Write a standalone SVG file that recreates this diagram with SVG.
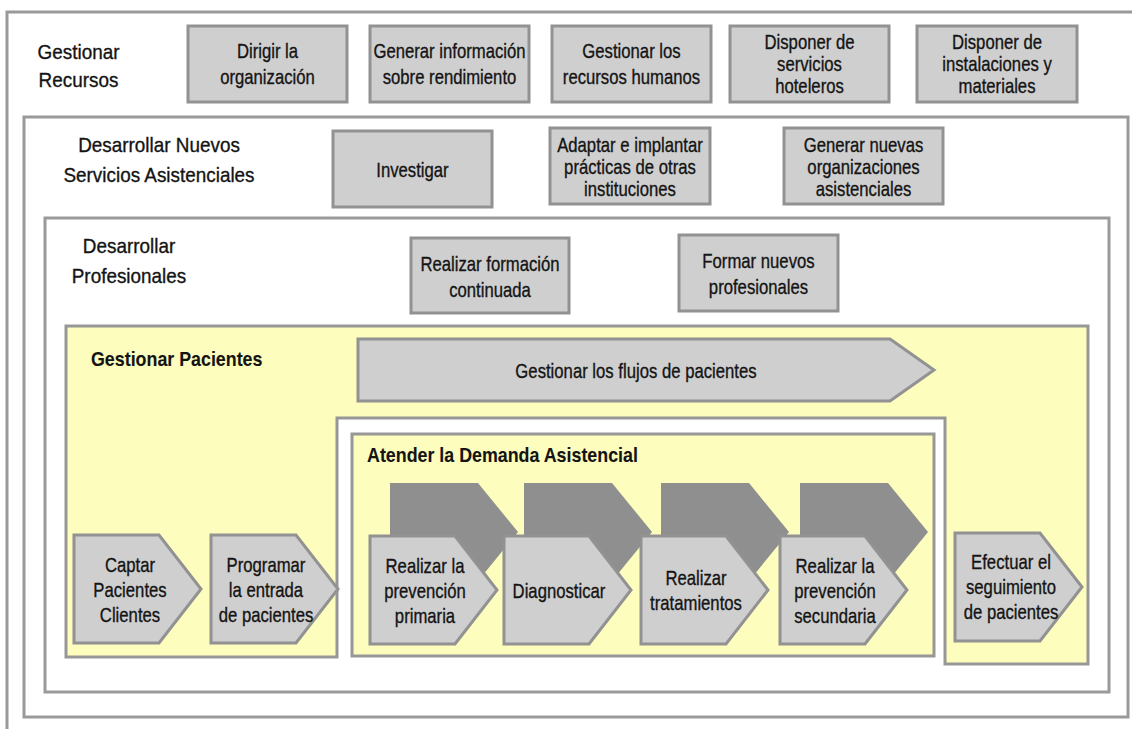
<svg xmlns="http://www.w3.org/2000/svg" width="1132" height="729" viewBox="0 0 1132 729">
<style>
  .frame{fill:none;stroke:#9a9a9a;stroke-width:3}
  .yel{fill:#fdfdbd;stroke:#979797;stroke-width:3}
  .box{fill:#cfcfcf;stroke:#929292;stroke-width:3}
  .shadow{fill:#8f8f8f;stroke:none}
  text{font-family:"Liberation Sans",Arial,sans-serif;font-size:21px;fill:#141414;stroke:#141414;stroke-width:0.35}
  .c{text-anchor:middle}
  .b{font-weight:bold;stroke-width:0.1}
</style>
<rect x="0" y="0" width="1132" height="729" fill="#ffffff"/>

<g id="frames">
  <path class="frame" d="M7,729 V12 H1132"/>
  <rect class="frame" x="24" y="117" width="1104" height="600"/>
  <rect class="frame" x="45" y="218" width="1064" height="474"/>
  <path class="yel" d="M66,326 H1088 V664 H945 V418 H337 V657 H66 Z"/>
  <rect class="yel" x="352" y="434" width="582" height="222"/>
</g>

<g id="labels">
  <text class="c" transform="translate(78.5,59) scale(0.9,1)"><tspan x="0">Gestionar</tspan><tspan x="0" dy="28">Recursos</tspan></text>
  <text class="c" transform="translate(159,152) scale(0.9,1)"><tspan x="0">Desarrollar Nuevos</tspan><tspan x="0" dy="30">Servicios Asistenciales</tspan></text>
  <text class="c" transform="translate(129,253) scale(0.9,1)"><tspan x="0">Desarrollar</tspan><tspan x="0" dy="30">Profesionales</tspan></text>
  <text class="b" transform="translate(91,366) scale(0.85,1)">Gestionar Pacientes</text>
  <text class="b" transform="translate(367,462) scale(0.85,1)">Atender la Demanda Asistencial</text>
</g>

<g id="n-dirigir">
  <rect class="box" x="188" y="26" width="159" height="76"/>
  <text class="c" transform="translate(267.5,58) scale(0.795,1)"><tspan x="0">Dirigir la</tspan><tspan x="0" dy="26">organización</tspan></text>
</g>
<g id="n-generar-info">
  <rect class="box" x="370" y="26" width="159" height="76"/>
  <text class="c" transform="translate(449.5,58) scale(0.795,1)"><tspan x="0">Generar información</tspan><tspan x="0" dy="26">sobre rendimiento</tspan></text>
</g>
<g id="n-rrhh">
  <rect class="box" x="552" y="26" width="159" height="76"/>
  <text class="c" transform="translate(631.5,58) scale(0.795,1)"><tspan x="0">Gestionar los</tspan><tspan x="0" dy="26">recursos humanos</tspan></text>
</g>
<g id="n-hoteleros">
  <rect class="box" x="730" y="26" width="159" height="76"/>
  <text class="c" transform="translate(809.5,49) scale(0.795,1)"><tspan x="0">Disponer de</tspan><tspan x="0" dy="22">servicios</tspan><tspan x="0" dy="22">hoteleros</tspan></text>
</g>
<g id="n-instalaciones">
  <rect class="box" x="917" y="26" width="160" height="76"/>
  <text class="c" transform="translate(997,49) scale(0.795,1)"><tspan x="0">Disponer de</tspan><tspan x="0" dy="22">instalaciones y</tspan><tspan x="0" dy="22">materiales</tspan></text>
</g>

<g id="n-investigar">
  <rect class="box" x="333" y="131" width="159" height="76"/>
  <text class="c" transform="translate(412.5,177) scale(0.795,1)">Investigar</text>
</g>
<g id="n-adaptar">
  <rect class="box" x="550" y="128" width="160" height="76"/>
  <text class="c" transform="translate(630,152) scale(0.795,1)"><tspan x="0">Adaptar e implantar</tspan><tspan x="0" dy="22">prácticas de otras</tspan><tspan x="0" dy="22">instituciones</tspan></text>
</g>
<g id="n-nuevas-org">
  <rect class="box" x="784" y="128" width="159" height="76"/>
  <text class="c" transform="translate(863.5,152) scale(0.795,1)"><tspan x="0">Generar nuevas</tspan><tspan x="0" dy="22">organizaciones</tspan><tspan x="0" dy="22">asistenciales</tspan></text>
</g>

<g id="n-formacion">
  <rect class="box" x="411" y="238" width="158" height="75"/>
  <text class="c" transform="translate(490,271) scale(0.795,1)"><tspan x="0">Realizar formación</tspan><tspan x="0" dy="26">continuada</tspan></text>
</g>
<g id="n-formar">
  <rect class="box" x="679" y="235" width="159" height="76"/>
  <text class="c" transform="translate(758.5,268) scale(0.795,1)"><tspan x="0">Formar nuevos</tspan><tspan x="0" dy="26">profesionales</tspan></text>
</g>

<g id="n-flujos">
  <polygon class="box" points="358,339 890,339 934,370 890,401 358,401"/>
  <text class="c" transform="translate(636,378) scale(0.795,1)">Gestionar los flujos de pacientes</text>
</g>

<g id="shadows">
  <polygon class="shadow" points="390,483 478,483 518,532 478,581 390,581"/>
  <polygon class="shadow" points="524,483 612,483 652,532 612,581 524,581"/>
  <polygon class="shadow" points="661,483 749,483 789,532 749,581 661,581"/>
  <polygon class="shadow" points="800,483 888,483 928,532 888,581 800,581"/>
</g>

<g id="n-captar">
  <polygon class="box" points="74,535 159,535 201,589 159,643 74,643"/>
  <text class="c" transform="translate(130,572) scale(0.795,1)"><tspan x="0">Captar</tspan><tspan x="0" dy="25">Pacientes</tspan><tspan x="0" dy="25">Clientes</tspan></text>
</g>
<g id="n-programar">
  <polygon class="box" points="211,535 296,535 338,589 296,643 211,643"/>
  <text class="c" transform="translate(266,572) scale(0.795,1)"><tspan x="0">Programar</tspan><tspan x="0" dy="25">la entrada</tspan><tspan x="0" dy="25">de pacientes</tspan></text>
</g>
<g id="n-prev-primaria">
  <polygon class="box" points="370,536 455,536 497,590 455,644 370,644"/>
  <text class="c" transform="translate(425,573) scale(0.795,1)"><tspan x="0">Realizar la</tspan><tspan x="0" dy="25">prevención</tspan><tspan x="0" dy="25">primaria</tspan></text>
</g>
<g id="n-diagnosticar">
  <polygon class="box" points="504,536 589,536 631,590 589,644 504,644"/>
  <text class="c" transform="translate(559,598) scale(0.795,1)">Diagnosticar</text>
</g>
<g id="n-tratamientos">
  <polygon class="box" points="641,536 726,536 768,590 726,644 641,644"/>
  <text class="c" transform="translate(696,585) scale(0.795,1)"><tspan x="0">Realizar</tspan><tspan x="0" dy="25">tratamientos</tspan></text>
</g>
<g id="n-prev-secundaria">
  <polygon class="box" points="780,536 865,536 907,590 865,644 780,644"/>
  <text class="c" transform="translate(835,573) scale(0.795,1)"><tspan x="0">Realizar la</tspan><tspan x="0" dy="25">prevención</tspan><tspan x="0" dy="25">secundaria</tspan></text>
</g>
<g id="n-seguimiento">
  <polygon class="box" points="955,533 1040,533 1082,587 1040,641 955,641"/>
  <text class="c" transform="translate(1011,569) scale(0.795,1)"><tspan x="0">Efectuar el</tspan><tspan x="0" dy="25">seguimiento</tspan><tspan x="0" dy="25">de pacientes</tspan></text>
</g>

<g id="connectors"></g>
</svg>
